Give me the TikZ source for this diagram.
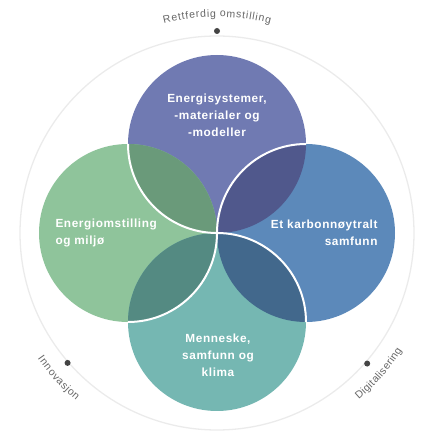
\documentclass[tikz,border=0pt]{standalone}
\usepackage{fontspec}
\usetikzlibrary{decorations.text,calc}
\newfontfamily\circfont[LetterSpace=5]{Liberation Sans}
\newfontfamily\ringfont{Liberation Sans}
\definecolor{cTop}{HTML}{707AB2}
\definecolor{cLeft}{HTML}{8FC49B}
\definecolor{cRight}{HTML}{5C89BA}
\definecolor{cBot}{HTML}{75B7B2}
\definecolor{cTL}{HTML}{6A9A7A}
\definecolor{cTR}{HTML}{50588C}
\definecolor{cRB}{HTML}{42688C}
\definecolor{cLB}{HTML}{548A82}
\definecolor{ringgray}{HTML}{EBEBEB}
\definecolor{dotgray}{HTML}{444444}
\definecolor{labgray}{HTML}{666666}
\tikzset{
  circtext/.style={text=white, font=\circfont\bfseries\fontsize{11.8}{17}\selectfont},
  whitearc/.style={draw=white, line width=2pt},
  ringdot/.style={circle, fill=dotgray, inner sep=0pt, minimum size=6pt},
}
\begin{document}
\begin{tikzpicture}[x=1pt,y=1pt]
\useasboundingbox (0,0) rectangle (421,439);
\coordinate (C) at (217,206);
\coordinate (T) at (217,295);
\coordinate (L) at (128,206);
\coordinate (R) at (306,206);
\coordinate (B) at (217,117);
% outer ring
\draw[ringgray, line width=1.3pt] (C) circle[radius=197];
% circles
\fill[cTop] (T) circle[radius=89];
\fill[cLeft] (L) circle[radius=89];
\fill[cRight] (R) circle[radius=89];
\fill[cBot] (B) circle[radius=89];
% overlaps
\begin{scope}\clip (T) circle[radius=89]; \fill[cTL] (L) circle[radius=89]; \end{scope}
\begin{scope}\clip (T) circle[radius=89]; \fill[cTR] (R) circle[radius=89]; \end{scope}
\begin{scope}\clip (B) circle[radius=89]; \fill[cRB] (R) circle[radius=89]; \end{scope}
\begin{scope}\clip (B) circle[radius=89]; \fill[cLB] (L) circle[radius=89]; \end{scope}
% white arcs (pinwheel)
\draw[whitearc] (128,295) arc[start angle=180, end angle=270, radius=89];
\draw[whitearc] (128,117) arc[start angle=270, end angle=360, radius=89];
\draw[whitearc] (217,206) arc[start angle=90, end angle=0, radius=89];
\draw[whitearc] (217,206) arc[start angle=180, end angle=90, radius=89];
% texts in circles
\node[circtext, align=center] (ttop) at (217,324) {Energisystemer,\\-materialer og\\-modeller};
\node[circtext, align=left, anchor=west] (tleft) at (52,206.5) {Energiomstilling\\og miljø};
\node[circtext, align=right, anchor=east] (tright) at (381,206.5) {Et karbonnøytralt\\samfunn};
\node[circtext, align=center] (tbot) at (218,84) {Menneske,\\samfunn og\\klima};
% dots
\node[ringdot] (d1) at ($(C)+(90:202)$) {};
\node[ringdot] (d2) at ($(C)+(221:198)$) {};
\node[ringdot] (d3) at ($(C)+(319:199)$) {};
% ring labels
\path[decorate, decoration={text along path, text align=center,
  text={|\ringfont\fontsize{10.5}{12}\selectfont\color{labgray}|{R\kern.8pt}{e\kern.8pt}{t\kern.8pt}{t\kern.8pt}{f\kern.8pt}{e\kern.8pt}{r\kern.8pt}{d\kern.8pt}{i\kern.8pt}{g\kern.8pt} {o\kern.8pt}{m\kern.8pt}{s\kern.8pt}{t\kern.8pt}{i\kern.8pt}{l\kern.8pt}{l\kern.8pt}{i\kern.8pt}{n\kern.8pt}g}}]
  ($(C)+(125:216)$) arc[start angle=125, end angle=55, radius=216];
\path[decorate, decoration={text along path, text align=center,
  text={|\ringfont\fontsize{10.5}{12}\selectfont\color{labgray}|{I\kern.7pt}{n\kern.7pt}{n\kern.7pt}{o\kern.7pt}{v\kern.7pt}{a\kern.7pt}{s\kern.7pt}{j\kern.7pt}{o\kern.7pt}n}}]
  ($(C)+(195:219)$) arc[start angle=195, end angle=250, radius=219];
\path[decorate, decoration={text along path, text align=center,
  text={|\ringfont\fontsize{10.5}{12}\selectfont\color{labgray}|{D\kern.45pt}{i\kern.45pt}{g\kern.45pt}{i\kern.45pt}{t\kern.45pt}{a\kern.45pt}{l\kern.45pt}{i\kern.45pt}{s\kern.45pt}{e\kern.45pt}{r\kern.45pt}{i\kern.45pt}{n\kern.45pt}g}}]
  ($(C)+(291:219)$) arc[start angle=291, end angle=347, radius=219];
\end{tikzpicture}
\end{document}
